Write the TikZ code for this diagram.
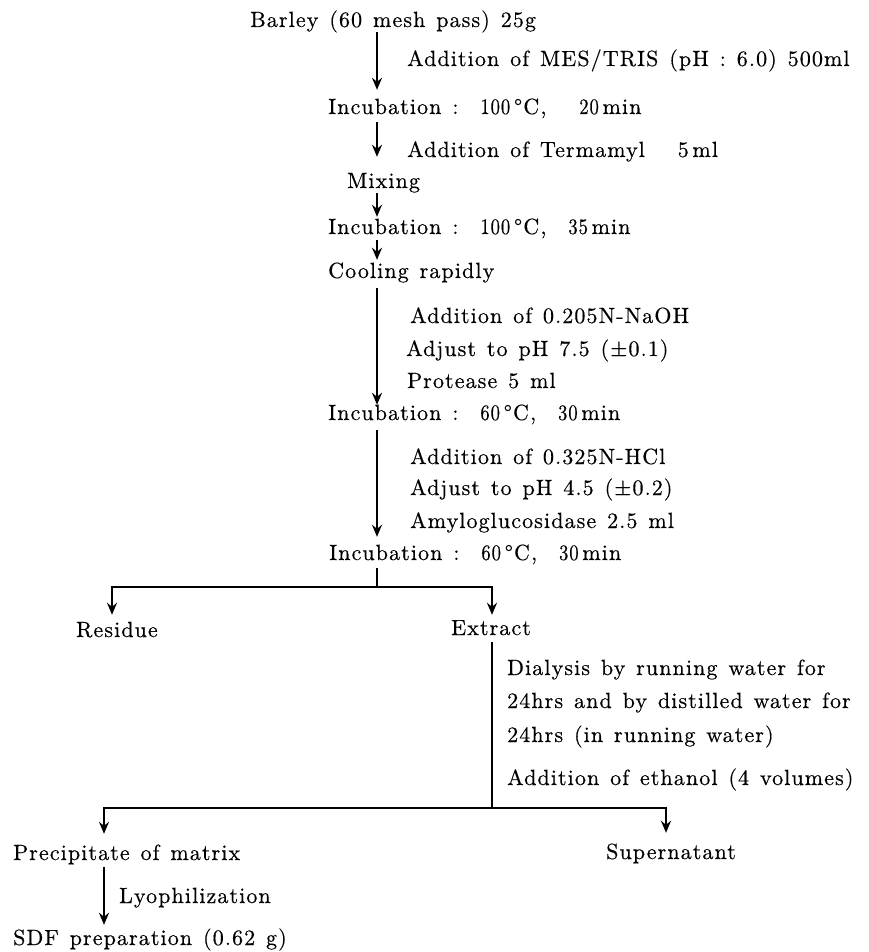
\documentclass[tikz,border=0pt]{standalone}
\usepackage{fontspec}
\usepackage{graphicx}
\usetikzlibrary{arrows.meta}
\newfontfamily\lmsp{lmroman10-regular.otf}[LetterSpace=5,WordSpace=1.3,FakeBold=0.4]
\newcommand\lsfont{\lmsp\fontsize{22}{26}\selectfont}
\newcommand\nm[1]{\scalebox{0.85}[1]{#1}}
\begin{document}
\begin{tikzpicture}[x=1pt,y=-1pt,
  txt/.style={inner sep=0pt, anchor=base west, text height=15pt, text depth=5pt, font=\lsfont},
  line/.style={line width=2.2pt},
  arr/.style={line width=2.2pt, -{Stealth[length=12pt,width=10pt,inset=4pt]}}]
\useasboundingbox (0,0) rectangle (868,952);
% nodes
\node[txt] (barley) at (250,27) {Barley (60 mesh pass) 25g};
\node[txt] (lab1) at (407,66) {Addition of MES/TRIS (pH : 6.0) 500ml};
\node[txt] (inc1) at (328,114) {Incubation :\ \ \nm{100}\,°C,\ \ \ \nm{20}\,min};
\node[txt] (lab2) at (407,157) {Addition of Termamyl\ \ \ 5\,ml};
\node[txt] (mix) at (347,188) {Mixing};
\node[txt] (inc2) at (328,234) {Incubation :\ \ \nm{100}\,°C,\ \ \nm{35}\,min};
\node[txt] (cool) at (328,278) {Cooling rapidly};
\node[txt] (lab3a) at (410,323) {Addition of 0.205N-NaOH};
\node[txt] (lab3b) at (406,356) {Adjust to pH 7.5 (±0.1)};
\node[txt] (lab3c) at (407,388) {Protease 5 ml};
\node[txt] (inc3) at (328,420) {Incubation :\ \ \nm{60}\,°C,\ \ \nm{30}\,min};
\node[txt] (lab4a) at (410,464) {Addition of 0.325N-HCl};
\node[txt] (lab4b) at (410,495) {Adjust to pH 4.5 (±0.2)};
\node[txt] (lab4c) at (410,528) {Amyloglucosidase 2.5 ml};
\node[txt] (inc4) at (329,560) {Incubation :\ \ \nm{60}\,°C,\ \ \nm{30}\,min};
\node[txt] (residue) at (76,637) {Residue};
\node[txt] (extract) at (451,635) {Extract};
\node[txt] (lab5a) at (507,675) {Dialysis by running water for};
\node[txt] (lab5b) at (507,708) {24hrs and by distilled water for};
\node[txt] (lab5c) at (507,742) {24hrs (in running water)};
\node[txt] (lab5d) at (507,785) {Addition of ethanol (4 volumes)};
\node[txt] (precip) at (13,860) {Precipitate of matrix};
\node[txt] (super) at (606,859) {Supernatant};
\node[txt] (lyo) at (119,903) {Lyophilization};
\node[txt] (sdf) at (13,945) {SDF preparation (0.62 g)};
% coordinates
\coordinate (sx) at (377,0);
\coordinate (lx1) at (112,0);
\coordinate (rx1) at (492,0);
\coordinate (lx2) at (104,0);
\coordinate (rx2) at (666,0);
\coordinate (b1) at (377,587);
\coordinate (b2) at (492,808);
% main stem
\draw[arr, shorten >=9pt] (barley.south -| sx) -- (inc1.north -| sx);
\draw[arr, shorten <=3pt, shorten >=16pt] (inc1.south -| sx) -- (mix.north -| sx);
\draw[arr, shorten >=2pt] (mix.south -| sx) -- (inc2.north -| sx);
\draw[arr, shorten <=1pt, shorten >=3pt] (inc2.south -| sx) -- (cool.north -| sx);
\draw[arr, shorten <=5pt] (cool.south -| sx) -- (inc3.north -| sx);
\draw[arr, shorten <=5pt, shorten >=8pt] (inc3.south -| sx) -- (inc4.north -| sx);
% first branch
\draw[line, shorten <=3pt] (inc4.south -| sx) -- (b1);
\draw[arr, shorten >=7pt] (b1) -| (residue.north -| lx1);
\draw[arr, shorten >=5pt] (b1) -| (extract.north -| rx1);
% second branch
\draw[line, shorten <=2pt] (extract.south -| rx1) -- (b2);
\draw[arr, shorten >=11pt] (b2) -| (precip.north -| lx2);
\draw[arr, shorten >=11pt] (b2) -| (super.north -| rx2);
% lyophilization
\draw[arr, shorten <=2pt, shorten >=5pt] (precip.south -| lx2) -- (sdf.north -| lx2);
\end{tikzpicture}
\end{document}
